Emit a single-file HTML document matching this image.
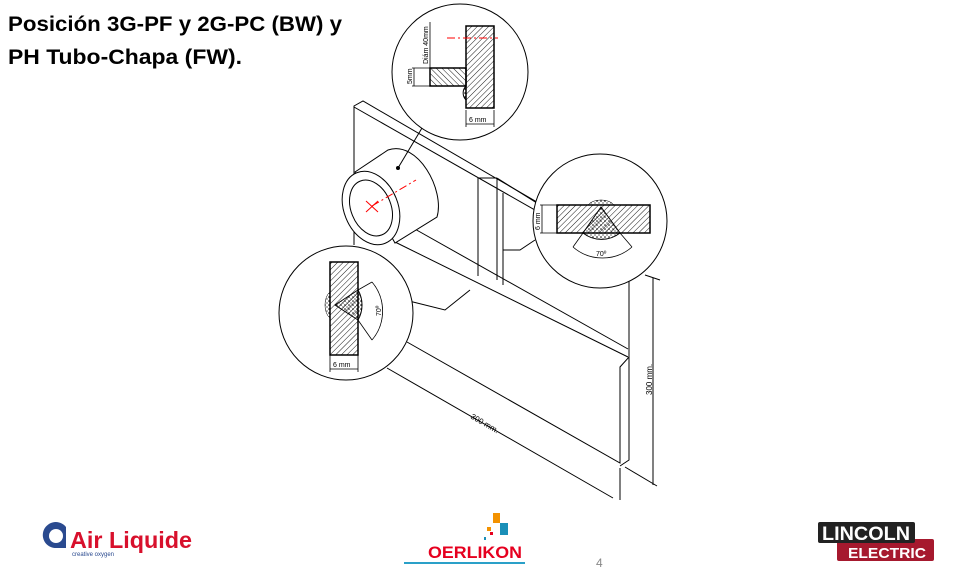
<!DOCTYPE html>
<html><head><meta charset="utf-8"><style>
html,body{margin:0;padding:0;background:#fff;}
body{width:958px;height:584px;overflow:hidden;position:relative;font-family:"Liberation Sans",sans-serif;}
</style></head><body>
<svg width="958" height="584" viewBox="0 0 958 584" xmlns="http://www.w3.org/2000/svg" style="position:absolute;left:0;top:0">
<defs>
<pattern id="h1" width="4" height="4" patternUnits="userSpaceOnUse" patternTransform="rotate(45)"><line x1="0" y1="0" x2="0" y2="4" stroke="#000" stroke-width="0.9"/></pattern>
<pattern id="h2" width="4" height="4" patternUnits="userSpaceOnUse" patternTransform="rotate(-45)"><line x1="0" y1="0" x2="0" y2="4" stroke="#000" stroke-width="0.9"/></pattern>
<pattern id="dots" width="4" height="4" patternUnits="userSpaceOnUse"><circle cx="1" cy="1" r="0.8" fill="#000"/><circle cx="3" cy="3" r="0.6" fill="#000"/></pattern>
</defs>
<text x="8" y="31" font-family="Liberation Sans" font-weight="bold" font-size="21" textLength="334" lengthAdjust="spacingAndGlyphs">Posición 3G-PF y 2G-PC (BW) y</text>
<text x="8" y="64" font-family="Liberation Sans" font-weight="bold" font-size="21" textLength="234" lengthAdjust="spacingAndGlyphs">PH Tubo-Chapa (FW).</text>

<g fill="none" stroke="#000" stroke-width="1">
<path d="M354 245 L354 106 L363 101 L628 255"/>
<path d="M354 107 L628 263"/>
<path d="M395 242 L628 357"/>
<path d="M413 228 L628 349"/>
<path d="M407 342 L620 463 L620 367 L629 357 L629 460 L620 466"/>
<path d="M629 357 L629 280"/>
<path d="M478 178 L478 276 M497 178 L497 280 M478 178 L497 178 M503 193 L503 285 M497 178 L540 205"/>
<path d="M503 250 L520 250 L535 240"/>
<path d="M355 172 L388 150 C418 140 445 190 437 217 L395 243 Z" fill="#fff"/>
<ellipse cx="371" cy="208" rx="27" ry="38" transform="rotate(-22 371 208)" fill="#fff"/>
<ellipse cx="371" cy="208" rx="20" ry="29" transform="rotate(-22 371 208)"/>
<path d="M398 168 L422 128"/>
<path d="M405 300 L445 310 L470 290"/>
<path d="M387 368 L613 498 M620 468 L620 500 M625 467 L657 486 M653 278 L653 485 M645 275 L660 280"/>
</g>
<circle cx="398" cy="168" r="2" fill="#000"/>
<g stroke="#f00" stroke-width="1" fill="none"><path d="M372 206 L416 180" stroke-dasharray="8 3 2 3"/><path d="M366 201 L378 212 M366 212 L378 201"/></g>
<text x="0" y="0" font-size="8" transform="translate(470 418) rotate(30)" font-family="Liberation Sans">300 mm.</text>
<text x="0" y="0" font-size="8" transform="translate(652 395) rotate(-90)" font-family="Liberation Sans">300 mm.</text>

<circle cx="460" cy="72" r="68" fill="#fff" stroke="#000"/>
<rect x="430" y="68" width="36" height="18" fill="url(#h2)" stroke="#000" stroke-width="1.5"/>
<rect x="466" y="26" width="28" height="82" fill="url(#h1)" stroke="#000" stroke-width="1.5"/>
<path d="M466 86 A10 10 0 0 0 466 100 Z" fill="url(#dots)" stroke="#000"/>
<g stroke="#000" stroke-width="0.8" fill="none"><path d="M412 68 L430 68 M412 86 L430 86 M414 68 L414 86 M430 22 L430 68 M466 110 L466 127 M494 110 L494 127 M466 124 L494 124"/></g>
<path d="M447 38 L498 38" stroke="#f00" stroke-dasharray="8 3 2 3"/>
<text font-size="7" transform="translate(412 84) rotate(-90)">5mm</text>
<text font-size="7" transform="translate(428 64) rotate(-90)">Diám 40mm</text>
<text x="469" y="122" font-size="7">6 mm</text>

<circle cx="600" cy="221" r="67" fill="#fff" stroke="#000"/>
<rect x="557" y="205" width="93" height="28" fill="url(#h1)" stroke="#000" stroke-width="1.5"/>
<path d="M601 207 L583 233 L620 233 Z M583 233 A30 30 0 0 0 620 233" fill="url(#dots)" stroke="#000"/>
<path d="M588 205 A14 8 0 0 1 614 205 Z" fill="url(#dots)" stroke="#000" stroke-width="0.5"/>
<g stroke="#000" stroke-width="0.8" fill="none"><path d="M540 205 L557 205 M540 233 L557 233 M542 205 L542 233 M583 233 L573 247 M620 233 L632 247 M573 247 A45 45 0 0 0 632 247"/></g>
<text font-size="7" transform="translate(540 230) rotate(-90)">6 mm</text>
<text x="596" y="256" font-size="7">70º</text>

<circle cx="346" cy="313" r="67" fill="#fff" stroke="#000"/>
<rect x="330" y="262" width="28" height="93" fill="url(#h1)" stroke="#000" stroke-width="1.5"/>
<path d="M335 305 L358 290 L358 320 Z M358 290 A30 30 0 0 1 358 320" fill="url(#dots)" stroke="#000"/>
<path d="M330 292 A8 14 0 0 0 330 318 Z" fill="url(#dots)" stroke="#000" stroke-width="0.5"/>
<g stroke="#000" stroke-width="0.8" fill="none"><path d="M330 355 L330 372 M358 355 L358 372 M330 369 L358 369 M358 290 L372 282 M358 320 L372 340 M372 282 A45 45 0 0 1 372 340"/></g>
<text x="333" y="367" font-size="7">6 mm</text>
<text font-size="7" transform="translate(381 316) rotate(-90)">70º</text>

<path d="M57 548 A13 13 0 1 1 66 527 L66 548 Z" fill="#2a4a8f"/>
<circle cx="56" cy="536" r="7" fill="#fff"/>
<text x="70" y="548" font-size="23" font-weight="bold" fill="#d8102c" font-family="Liberation Sans" textLength="122" lengthAdjust="spacingAndGlyphs">Air Liquide</text>
<text x="72" y="556" font-size="6" fill="#2a4a8f">creative oxygen</text>
<rect x="493" y="513" width="7" height="10" fill="#f39200"/>
<rect x="500" y="523" width="8" height="12" fill="#1a8fb8"/>
<rect x="487" y="527" width="4" height="4" fill="#f39200"/>
<rect x="490" y="532" width="3" height="3" fill="#e6001f"/>
<rect x="484" y="537" width="2" height="3" fill="#1a8fb8"/>
<text x="428" y="558" font-size="17" font-weight="bold" fill="#e6001f" font-family="Liberation Sans" textLength="94" lengthAdjust="spacingAndGlyphs">OERLIKON</text>
<rect x="404" y="562" width="121" height="2" fill="#2aa0c8"/>
<text x="596" y="567" font-size="12" fill="#888">4</text>
<rect x="837" y="539" width="97" height="22" rx="2" fill="#a6192e"/>
<rect x="818" y="522" width="97" height="21" rx="2" fill="#222"/>
<text x="822" y="540" font-size="19" font-weight="bold" fill="#fff" font-family="Liberation Sans" textLength="88" lengthAdjust="spacingAndGlyphs">LINCOLN</text>
<text x="848" y="558" font-size="15" font-weight="bold" fill="#fff" font-family="Liberation Sans" textLength="78" lengthAdjust="spacingAndGlyphs">ELECTRIC</text>
</svg>
</body></html>
